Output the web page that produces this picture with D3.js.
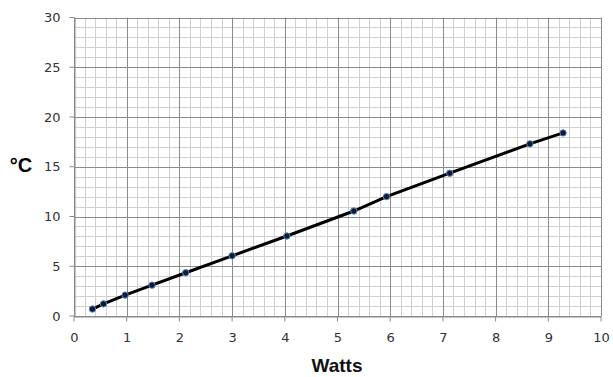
<!DOCTYPE html>
<html>
<head>
<meta charset="utf-8">
<script src="https://cdn.jsdelivr.net/npm/d3@7"></script>
<style>
  body { margin: 0; background: #fff; }
</style>
</head>
<body>
<div id="chart"></div>
<script>
// measured points (watts, degrees C)
const watts = [0.35, 0.56, 0.97, 1.48, 2.12, 3.0, 4.04, 5.31, 5.93, 7.13, 8.65, 9.28];
const temps = [0.7, 1.22, 2.1, 3.1, 4.35, 6.05, 8.04, 10.55, 12.0, 14.35, 17.3, 18.4];
const xTicks = [0, 1, 2, 3, 4, 5, 6, 7, 8, 9, 10];
const yTicks = [0, 5, 10, 15, 20, 25, 30];

const width = 613, height = 377;
const margin = {left: 74, right: 12, top: 17.5, bottom: 61};

const svg = d3.select('#chart')
  .append('svg')
  .attr('width', width)
  .attr('height', height);

const x = d3.scaleLinear().domain([0, 10]).range([margin.left, width - margin.right]);
const y = d3.scaleLinear().domain([0, 30]).range([height - margin.bottom, margin.top]);

const grid = svg.append('g');

// minor grid: x every 0.2, y every 1
grid.selectAll('.vminor')
  .data(d3.range(0, 10.001, 0.2).filter(v => Math.abs(v - Math.round(v)) > 0.01))
  .enter().append('line')
  .attr('x1', d => Math.round(x(d)) + 0.5).attr('x2', d => Math.round(x(d)) + 0.5)
  .attr('y1', y(0)).attr('y2', y(30))
  .attr('stroke', '#d0d0d0').attr('stroke-width', 1);

grid.selectAll('.hminor')
  .data(d3.range(0, 31, 1).filter(v => v % 5 !== 0))
  .enter().append('line')
  .attr('x1', x(0)).attr('x2', x(10))
  .attr('y1', d => Math.round(y(d)) + 0.5).attr('y2', d => Math.round(y(d)) + 0.5)
  .attr('stroke', '#d0d0d0').attr('stroke-width', 1);

// major grid
grid.selectAll('.vmajor')
  .data(xTicks)
  .enter().append('line')
  .attr('x1', d => Math.round(x(d)) + 0.5).attr('x2', d => Math.round(x(d)) + 0.5)
  .attr('y1', y(0)).attr('y2', y(30))
  .attr('stroke', '#8a8a8a').attr('stroke-width', 1);

grid.selectAll('.hmajor')
  .data(yTicks)
  .enter().append('line')
  .attr('x1', x(0)).attr('x2', x(10))
  .attr('y1', d => Math.round(y(d)) + 0.5).attr('y2', d => Math.round(y(d)) + 0.5)
  .attr('stroke', '#8a8a8a').attr('stroke-width', 1);

// axes
const xAxis = svg.append('g')
  .attr('transform', `translate(0,${Math.round(y(0)) + 0.5})`)
  .call(d3.axisBottom(x).tickValues(xTicks).tickSizeInner(5).tickSizeOuter(0).tickPadding(11));

const yAxis = svg.append('g')
  .attr('transform', `translate(${Math.round(x(0)) + 0.5},0)`)
  .call(d3.axisLeft(y).tickValues(yTicks).tickSizeInner(5).tickSizeOuter(0).tickPadding(9));

[xAxis, yAxis].forEach(a => {
  a.select('.domain').attr('stroke', '#8a8a8a');
  a.selectAll('.tick line').attr('stroke', '#8a8a8a').attr('transform', 'translate(-0.5,0)');
  a.selectAll('.tick text')
    .attr('fill', '#333')
    .style('font-family', 'DejaVu Sans, Verdana, sans-serif')
    .style('font-size', '13px');
});
yAxis.selectAll('.tick line').attr('transform', 'translate(0,-0.5)');

// axis titles
svg.append('text')
  .attr('x', 337).attr('y', 372)
  .attr('text-anchor', 'middle')
  .style('font-family', 'Liberation Sans, Arial, sans-serif')
  .style('font-weight', 'bold')
  .style('font-size', '19px')
  .attr('fill', '#111')
  .text('Watts');

svg.append('text')
  .attr('x', 21).attr('y', 172)
  .attr('text-anchor', 'middle')
  .style('font-family', 'Liberation Sans, Arial, sans-serif')
  .style('font-weight', 'bold')
  .style('font-size', '20px')
  .attr('fill', '#000')
  .text('°C');

// series
const pts = watts.map((w, i) => ({w: w, t: temps[i]}));

svg.append('path')
  .datum(pts)
  .attr('fill', 'none')
  .attr('stroke', '#000')
  .attr('stroke-width', 3)
  .attr('d', d3.line().x(d => x(d.w)).y(d => y(d.t)));

svg.selectAll('.pt')
  .data(pts)
  .enter().append('circle')
  .attr('cx', d => x(d.w))
  .attr('cy', d => y(d.t))
  .attr('r', 3.2)
  .attr('fill', '#0d1b33')
  .attr('stroke', '#5b86c5')
  .attr('stroke-width', 1);
</script>
</body>
</html>
